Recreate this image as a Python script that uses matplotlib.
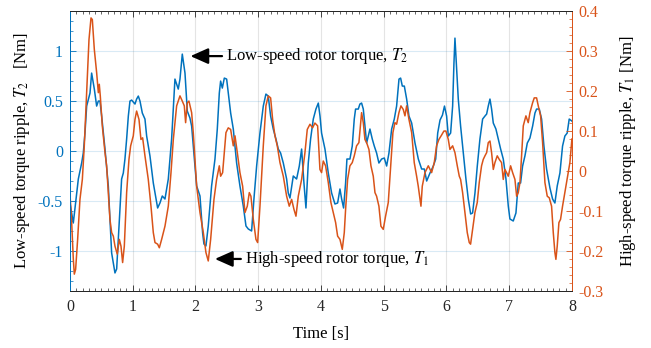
import numpy as np
import matplotlib
matplotlib.use("Agg")
import matplotlib.pyplot as plt
from matplotlib.ticker import MultipleLocator

plt.rcParams["font.family"] = ["Liberation Serif", "DejaVu Serif"]
plt.rcParams["mathtext.fontset"] = "stix"

BLUE = "#0072BD"
ORANGE = "#D95319"
DARK = "#262626"

# low-speed rotor torque ripple T2 [Nm]
t_low = [0.0, 0.053, 0.133, 0.186, 0.212, 0.239, 0.266, 0.319, 0.345, 0.388,
         0.425, 0.452, 0.478, 0.505, 0.558, 0.611, 0.637, 0.664, 0.717, 0.744,
         0.770, 0.823, 0.850, 0.876, 0.903, 0.930, 0.956, 0.983, 1.036, 1.062,
         1.089, 1.116, 1.153, 1.195, 1.222, 1.275, 1.328, 1.397, 1.434, 1.471,
         1.514, 1.567, 1.620, 1.673, 1.726, 1.753, 1.790, 1.833, 1.870, 1.912,
         1.939, 1.965, 1.992, 2.019, 2.072, 2.114, 2.135, 2.167, 2.204, 2.257,
         2.311, 2.348, 2.380, 2.401, 2.428, 2.460, 2.497, 2.523, 2.561, 2.603,
         2.656, 2.709, 2.762, 2.805, 2.842, 2.895, 2.932, 2.975, 3.028, 3.081,
         3.123, 3.160, 3.198, 3.240, 3.283, 3.320, 3.357, 3.400, 3.453, 3.479,
         3.506, 3.559, 3.612, 3.655, 3.692, 3.729, 3.761, 3.798, 3.835, 3.878,
         3.920, 3.958, 3.985, 4.010, 4.064, 4.117, 4.170, 4.223, 4.266, 4.303,
         4.330, 4.361, 4.393, 4.414, 4.462, 4.499, 4.531, 4.552, 4.595, 4.621,
         4.648, 4.675, 4.701, 4.728, 4.754, 4.781, 4.818, 4.850, 4.887, 4.924,
         4.967, 5.010, 5.047, 5.084, 5.127, 5.169, 5.206, 5.244, 5.270, 5.297,
         5.329, 5.366, 5.403, 5.446, 5.499, 5.552, 5.605, 5.648, 5.685, 5.738,
         5.791, 5.829, 5.861, 5.898, 5.937, 5.969, 6.003, 6.030, 6.067, 6.099,
         6.120, 6.136, 6.163, 6.189, 6.226, 6.269, 6.311, 6.348, 6.386, 6.417,
         6.455, 6.492, 6.534, 6.577, 6.614, 6.641, 6.667, 6.694, 6.720, 6.747,
         6.789, 6.826, 6.864, 6.906, 6.949, 6.986, 7.012, 7.065, 7.108, 7.145,
         7.182, 7.214, 7.251, 7.289, 7.331, 7.374, 7.411, 7.437, 7.480, 7.517,
         7.554, 7.596, 7.650, 7.692, 7.729, 7.766, 7.809, 7.851, 7.888, 7.925,
         7.957, 8.0]
torque_low = [-0.52, -0.72, -0.28, -0.12, -0.02, 0.18, 0.45, 0.58, 0.78, 0.62,
              0.45, 0.50, 0.50, 0.35, 0.02, -0.35, -0.68, -1.02, -1.22, -1.18,
              -0.88, -0.28, -0.22, -0.08, 0.12, 0.35, 0.50, 0.51, 0.47, 0.52,
              0.55, 0.50, 0.38, 0.32, 0.15, -0.05, -0.32, -0.57, -0.52, -0.45,
              -0.48, -0.28, 0.12, 0.72, 0.62, 0.72, 0.97, 0.78, 0.40, 0.33,
              0.25, 0.05, -0.15, -0.35, -0.45, -0.82, -0.93, -0.95, -0.75, -0.35,
              -0.08, 0.22, 0.58, 0.70, 0.63, 0.73, 0.72, 0.58, 0.38, 0.22,
              -0.12, -0.35, -0.55, -0.75, -0.78, -0.80, -0.48, -0.15, 0.18, 0.45,
              0.57, 0.55, 0.35, 0.22, 0.12, 0.02, -0.02, -0.12, -0.28, -0.42,
              -0.47, -0.25, -0.28, -0.15, 0.02, -0.32, -0.57, -0.12, 0.12, 0.32,
              0.42, 0.48, 0.35, 0.18, 0.02, -0.22, -0.42, -0.53, -0.52, -0.38,
              -0.48, -0.57, -0.32, -0.08, -0.08, 0.05, 0.32, 0.42, 0.42, 0.47,
              0.48, 0.42, 0.25, 0.08, 0.15, 0.22, 0.12, 0.05, -0.02, -0.12,
              -0.08, -0.07, -0.15, -0.02, 0.22, 0.32, 0.45, 0.72, 0.73, 0.65,
              0.65, 0.52, 0.35, 0.28, 0.08, -0.08, -0.18, -0.18, -0.30, -0.22,
              -0.15, -0.08, 0.18, 0.31, 0.36, 0.45, 0.35, 0.15, 0.18, 0.45,
              0.88, 1.13, 0.82, 0.52, 0.25, -0.02, -0.28, -0.48, -0.63, -0.62,
              -0.42, -0.15, 0.12, 0.32, 0.35, 0.37, 0.45, 0.52, 0.42, 0.28,
              0.22, 0.12, 0.02, -0.08, -0.28, -0.55, -0.68, -0.70, -0.62, -0.32,
              -0.32, -0.15, -0.05, 0.08, 0.13, 0.25, 0.38, 0.42, 0.42, 0.32,
              0.05, -0.18, -0.37, -0.48, -0.52, -0.35, -0.22, 0.05, 0.15, 0.18,
              0.32, 0.30]

# high-speed rotor torque ripple T1 [Nm]
t_high = [0.0, 0.027, 0.053, 0.069, 0.090, 0.122, 0.159, 0.197, 0.228, 0.266,
          0.303, 0.335, 0.356, 0.388, 0.425, 0.452, 0.467, 0.483, 0.515, 0.558,
          0.584, 0.611, 0.637, 0.664, 0.691, 0.717, 0.754, 0.786, 0.813, 0.839,
          0.866, 0.903, 0.940, 0.967, 1.009, 1.036, 1.062, 1.100, 1.131, 1.158,
          1.195, 1.248, 1.291, 1.328, 1.355, 1.397, 1.424, 1.461, 1.514, 1.567,
          1.610, 1.647, 1.700, 1.753, 1.790, 1.822, 1.843, 1.870, 1.896, 1.939,
          1.965, 2.019, 2.072, 2.125, 2.167, 2.204, 2.242, 2.295, 2.337, 2.380,
          2.401, 2.433, 2.460, 2.486, 2.523, 2.561, 2.603, 2.630, 2.667, 2.709,
          2.752, 2.789, 2.826, 2.858, 2.884, 2.922, 2.964, 2.991, 3.028, 3.081,
          3.123, 3.160, 3.198, 3.230, 3.267, 3.304, 3.347, 3.400, 3.453, 3.495,
          3.533, 3.570, 3.602, 3.639, 3.692, 3.745, 3.782, 3.825, 3.867, 3.904,
          3.947, 3.984, 4.010, 4.037, 4.074, 4.117, 4.159, 4.196, 4.234, 4.266,
          4.303, 4.340, 4.372, 4.393, 4.425, 4.462, 4.499, 4.531, 4.568, 4.605,
          4.648, 4.675, 4.701, 4.728, 4.765, 4.797, 4.834, 4.861, 4.887, 4.924,
          4.956, 4.993, 5.030, 5.073, 5.116, 5.147, 5.179, 5.206, 5.243, 5.275,
          5.312, 5.339, 5.366, 5.403, 5.446, 5.487, 5.525, 5.551, 5.594, 5.615,
          5.658, 5.711, 5.764, 5.806, 5.843, 5.880, 5.923, 5.960, 5.992, 6.030,
          6.056, 6.099, 6.136, 6.173, 6.205, 6.226, 6.258, 6.295, 6.332, 6.364,
          6.385, 6.417, 6.454, 6.491, 6.523, 6.560, 6.587, 6.614, 6.641, 6.667,
          6.694, 6.720, 6.747, 6.773, 6.810, 6.842, 6.879, 6.906, 6.932, 6.959,
          6.986, 7.023, 7.055, 7.092, 7.119, 7.145, 7.172, 7.198, 7.225, 7.267,
          7.304, 7.331, 7.374, 7.400, 7.437, 7.464, 7.501, 7.533, 7.570, 7.607,
          7.639, 7.676, 7.703, 7.729, 7.745, 7.766, 7.793, 7.819, 7.851, 7.888,
          7.925, 7.968, 8.0]
torque_high = [-0.058, -0.129, -0.220, -0.258, -0.246, -0.171, -0.071, -0.021, 0.063, 0.196,
               0.329, 0.383, 0.379, 0.304, 0.246, 0.196, 0.217, 0.188, 0.113, 0.046,
               0.013, -0.054, -0.121, -0.154, -0.163, -0.188, -0.208, -0.171, -0.188, -0.229,
               -0.188, -0.054, 0.029, 0.063, 0.088, 0.129, 0.150, 0.129, 0.079, 0.083,
               0.038, -0.021, -0.088, -0.154, -0.179, -0.183, -0.192, -0.171, -0.138, -0.088,
               -0.004, 0.079, 0.163, 0.188, 0.175, 0.163, 0.121, 0.171, 0.175, 0.146,
               0.096, -0.038, -0.104, -0.154, -0.204, -0.225, -0.171, -0.071, -0.021, 0.013,
               -0.013, -0.004, 0.046, 0.096, 0.108, 0.104, 0.063, 0.088, 0.046, -0.004,
               -0.038, -0.104, -0.088, -0.054, -0.063, -0.121, -0.171, -0.179, -0.088, 0.063,
               0.163, 0.188, 0.183, 0.129, 0.088, 0.063, 0.021, -0.013, -0.063, -0.088,
               -0.071, -0.096, -0.113, -0.063, -0.021, 0.046, 0.104, 0.117, 0.108, 0.120,
               0.113, 0.004, -0.004, 0.025, 0.013, -0.029, -0.079, -0.104, -0.129, -0.163,
               -0.171, -0.196, -0.154, -0.096, -0.021, 0.013, 0.021, 0.038, 0.063, 0.071,
               0.146, 0.121, 0.079, 0.071, 0.054, 0.013, -0.013, -0.054, -0.063, -0.088,
               -0.138, -0.146, -0.113, -0.079, 0.021, 0.096, 0.121, 0.117, 0.146, 0.163,
               0.154, 0.138, 0.163, 0.129, 0.096, 0.021, -0.013, -0.038, -0.088, -0.038,
               -0.004, 0.013, -0.004, 0.021, 0.063, 0.079, 0.090, 0.100, 0.100, 0.079,
               0.054, 0.063, 0.046, 0.013, -0.013, -0.021, -0.054, -0.104, -0.154, -0.179,
               -0.183, -0.146, -0.104, -0.079, -0.029, 0.013, 0.029, 0.038, 0.046, 0.071,
               0.075, 0.046, 0.004, 0.021, 0.038, 0.029, 0.021, -0.021, 0.004, -0.004,
               -0.013, 0.013, -0.004, -0.021, -0.063, -0.054, -0.029, 0.038, 0.113, 0.138,
               0.121, 0.146, 0.171, 0.183, 0.183, 0.163, 0.138, 0.071, -0.029, -0.063,
               -0.067, -0.088, -0.154, -0.204, -0.221, -0.188, -0.129, -0.121, -0.088, -0.054,
               -0.021, 0.021, 0.080]

fig = plt.figure(figsize=(6.51, 3.48), dpi=100)
ax = fig.add_axes([0.1075, 0.164, 0.771, 0.804])
ax2 = ax.twinx()

ax.plot(t_low, torque_low, color=BLUE, lw=1.1)
ax2.plot(t_high, torque_high, color=ORANGE, lw=1.1)

ax.set_xlim(0, 8)
ax.set_ylim(-1.4, 1.4)
ax2.set_ylim(-0.3, 0.4)

ax.xaxis.set_major_locator(MultipleLocator(1))
ax.xaxis.set_minor_locator(MultipleLocator(0.1))
ax.yaxis.set_major_locator(MultipleLocator(0.5))
ax.yaxis.set_minor_locator(MultipleLocator(0.1))
ax2.yaxis.set_major_locator(MultipleLocator(0.1))
ax2.yaxis.set_minor_locator(MultipleLocator(0.02))

ax.set_yticks([-1, -0.5, 0, 0.5, 1])
ax.set_yticklabels(["-1", "-0.5", "0", "0.5", "1"])
ax2.set_yticks([-0.3, -0.2, -0.1, 0, 0.1, 0.2, 0.3, 0.4])
ax2.set_yticklabels(["-0.3", "-0.2", "-0.1", "0", "0.1", "0.2", "0.3", "0.4"])

# grid: vertical lines grey, horizontal follow the left axis colour
ax.grid(True, axis="x", color=DARK, alpha=0.12, lw=0.8)
ax.grid(True, axis="y", color=BLUE, alpha=0.15, lw=0.8)
ax.set_axisbelow(True)

ax.tick_params(axis="x", which="both", direction="in", top=True, colors=DARK,
               labelsize=11.5, pad=6)
ax.tick_params(axis="x", which="major", length=4, width=0.6)
ax.tick_params(axis="x", which="minor", length=2, width=0.5)
ax.tick_params(axis="y", which="both", direction="in", colors=BLUE, labelsize=11.5, pad=5)
ax.tick_params(axis="y", which="major", length=4, width=0.6)
ax.tick_params(axis="y", which="minor", length=2, width=0.5)
ax2.tick_params(axis="y", which="both", direction="in", colors=ORANGE, labelsize=11.5, pad=5)
ax2.tick_params(axis="y", which="major", length=4, width=0.6)
ax2.tick_params(axis="y", which="minor", length=2, width=0.5)

for a in (ax, ax2):
    a.spines["top"].set_color(DARK)
    a.spines["bottom"].set_color(DARK)
    a.spines["left"].set_color(BLUE)
    a.spines["right"].set_color(ORANGE)
    for s in a.spines.values():
        s.set_linewidth(0.7)

ax.set_xlabel("Time [s]", fontsize=12, color="k", labelpad=8)
ax.set_ylabel(r"Low-speed torque ripple, $T_2$   [Nm]", fontsize=12, color="k", labelpad=4)
ax2.set_ylabel(r"High-speed torque ripple, $T_1$ [Nm]", fontsize=12, color="k", labelpad=10)

arrow = dict(arrowstyle="-|>,head_length=0.9,head_width=0.4", color="k", lw=1.6,
             shrinkA=1, shrinkB=0)
ax.annotate(r"Low-speed rotor torque, $T_2$", xy=(1.92, 0.95), xytext=(2.49, 0.95),
            fontsize=12, ha="left", va="center", arrowprops=arrow)
ax.annotate(r"High-speed rotor torque, $T_1$", xy=(2.31, -1.08), xytext=(2.79, -1.08),
            fontsize=12, ha="left", va="center", arrowprops=arrow)

fig.savefig("out.png", dpi=100)
